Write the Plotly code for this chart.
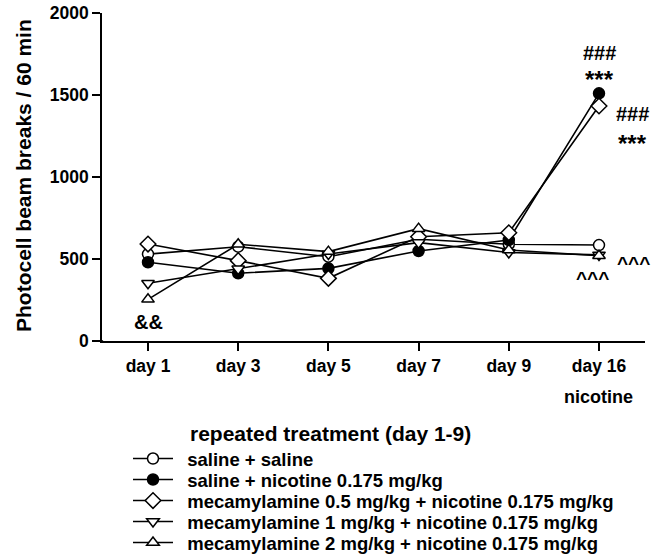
import plotly.graph_objects as go

days = ["day 1", "day 3", "day 5", "day 7", "day 9", "day 16"]
series_names = [
    "saline + saline",
    "saline + nicotine 0.175 mg/kg",
    "mecamylamine 0.5 mg/kg + nicotine 0.175 mg/kg",
    "mecamylamine 1 mg/kg + nicotine 0.175 mg/kg",
    "mecamylamine 2 mg/kg + nicotine 0.175 mg/kg",
]
saline_saline = [530, 575, 514, 620, 590, 585]
saline_nicotine = [480, 413, 443, 549, 616, 1510]
mec05_nicotine = [591, 490, 382, 636, 660, 1433]
mec1_nicotine = [352, 440, 530, 600, 540, 525]
mec2_nicotine = [254, 590, 545, 685, 555, 520]
y_ticks = [0, 500, 1000, 1500, 2000]

values = [saline_saline, saline_nicotine, mec05_nicotine, mec1_nicotine, mec2_nicotine]
symbols = ["circle", "circle", "diamond", "triangle-down", "triangle-up"]
fills = ["white", "black", "white", "white", "white"]
sizes = [11, 11, 12, 11, 11]

FONT = "Liberation Sans, Arial, Helvetica, sans-serif"
W, H = 664, 558
ML, MR, MT, MB = 92, 19, 13, 217
PW = W - ML - MR
PH = H - MT - MB
xpos = list(range(len(days)))
legend_ids = ["legend", "legend2", "legend3", "legend4", "legend5"]
legend_rows_px = [459, 480, 501, 522, 543]

fig = go.Figure()
for i, (name, vals, sym, fill, sz) in enumerate(zip(series_names, values, symbols, fills, sizes)):
    fig.add_trace(go.Scatter(
        x=xpos, y=vals, name="\u2002" + name, mode="lines+markers",
        line=dict(color="black", width=1.6),
        marker=dict(symbol=sym, size=sz, color=fill, line=dict(color="black", width=1.5)),
        legend=legend_ids[i],
        cliponaxis=False,
    ))

def txt(s, x, y, size=18, xref="x", yref="y", xanchor="center", yanchor="middle", angle=0):
    fig.add_annotation(text="<b>%s</b>" % s, x=x, y=y, xref=xref, yref=yref,
                       showarrow=False, xanchor=xanchor, yanchor=yanchor, textangle=angle,
                       font=dict(family=FONT, size=size, color="black"))

# significance marks
txt("###", 5, 1677, size=20, yanchor="bottom")
txt("***", 5, 1689, size=24, yanchor="top")
txt("###", 5.37, 1305, size=20, yanchor="bottom")
txt("***", 5.37, 1299, size=24, yanchor="top")
txt("^^^", 5.38, 470, size=19)
txt("^^^", 4.93, 380, size=19)
txt("&&", 0, 116, size=20)

# texts outside the plot area
txt("nicotine", (598 - ML) / PW, (341 - 397) / PH, xref="paper", yref="paper")
txt("repeated treatment (day 1-9)", (188 - ML) / PW, (341 - 433) / PH, size=21,
    xref="paper", yref="paper", xanchor="left")
txt("Photocell beam breaks / 60 min", (23 - ML) / PW, (341 - 176) / PH, size=21,
    xref="paper", yref="paper", angle=-90)

# x-axis baseline extends slightly left of the y axis, as in the original figure
x_dom0 = 10 / PW
fig.add_shape(type="line", xref="paper", yref="paper", x0=0, x1=x_dom0 + 0.002, y0=0, y1=0,
              line=dict(color="black", width=1.6))

legend_layouts = {}
for lid, py in zip(legend_ids, legend_rows_px):
    legend_layouts[lid] = dict(
        xref="container", yref="container",
        x=128 / W, y=1 - py / H, xanchor="left", yanchor="middle",
        font=dict(family=FONT, size=18.5, color="black", weight="bold"),
        itemwidth=40, bgcolor="rgba(0,0,0,0)", borderwidth=0,
    )

fig.update_layout(
    width=W, height=H,
    margin=dict(l=ML, r=MR, t=MT, b=MB, autoexpand=False),
    paper_bgcolor="white", plot_bgcolor="white",
    font=dict(family=FONT, size=18, color="black"),
    showlegend=True,
    xaxis=dict(domain=[x_dom0, 1], range=[-0.51, 5.51], tickvals=xpos,
               ticktext=["<b>%s</b>" % d for d in days],
               showline=True, linecolor="black", linewidth=1.6, ticks="outside",
               ticklen=8, tickwidth=1.6, tickcolor="black", showgrid=False, zeroline=False,
               automargin=False,
               tickfont=dict(family=FONT, size=17.5, color="black")),
    yaxis=dict(range=[0, 2000], tickvals=y_ticks, ticktext=["<b>%d</b>" % v for v in y_ticks],
               automargin=False,
               showline=True, linecolor="black", linewidth=1.6, ticks="outside",
               ticklen=8, tickwidth=1.6, tickcolor="black", showgrid=False, zeroline=False,
               tickfont=dict(family=FONT, size=17.5, color="black")),
    **legend_layouts,
)

fig.write_html("out.html", config={"displayModeBar": False},
               post_script="document.body.style.margin='0';")
